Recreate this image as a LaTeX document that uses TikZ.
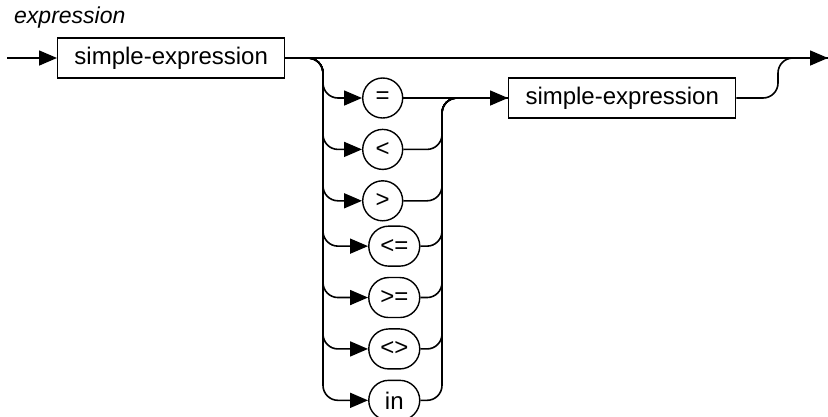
\documentclass[tikz,border=0pt]{standalone}
\usepackage{fontspec}
\setmainfont{Liberation Sans}
\usepackage{tikz}
\usetikzlibrary{arrows.meta,positioning}
\newcommand{\rrfont}{\fontsize{24}{28}\selectfont}
\tikzset{
  % Nonterminal box
  sebox/.style={rectangle,draw,line width=1.4pt,
    minimum width=227pt,minimum height=40pt,inner sep=2pt,
    font=\rrfont},
  % Terminal symbol (round)
  opcirc/.style={circle,draw,line width=1.4pt,
    minimum size=40pt,inner sep=0pt,font=\rrfont},
  % Terminal symbol (wide)
  opwide/.style={rectangle,rounded corners=20pt,draw,line width=1.4pt,
    minimum width=51pt,minimum height=40pt,inner sep=0pt,font=\rrfont},
  % Title
  ttl/.style={inner sep=0pt,font=\itshape\fontsize{23}{26}\selectfont},
  % Lines
  ln/.style={line width=1.6pt,rounded corners=15pt},
  arr/.style={ln,-{Triangle[length=18pt,width=15pt]}},
}
\begin{document}
\begin{tikzpicture}[x=1pt,y=-1pt]
  \useasboundingbox (0,0) rectangle (828,416);
  \node[ttl,anchor=base west] (title) at (14,23) {expression};

  % Main track
  \coordinate (start) at (7,58);
  \coordinate (split) at (307,58);
  \coordinate (lbus) at (323,58);
  \coordinate (rbus) at (442,98);
  \coordinate (outbus) at (778,58);
  \coordinate (end) at (828,58);
  \node[sebox,anchor=west] (se1) at (57,58) {simple-expression};

  % Operators
  \node[opcirc,anchor=west] (opEq) at (362,98) {=};
  \node[opcirc,below=10pt of opEq] (opLt) {<};
  \node[opcirc,below=10pt of opLt] (opGt) {>};
  \node[opwide,below=10pt of opGt.south west,anchor=north west] (opLe) {<=};
  \node[opwide,below=10pt of opLe] (opGe) {>=};
  \node[opwide,below=10pt of opGe] (opNe) {<>};
  \node[opwide,below=10pt of opNe] (opIn) {in};

  % Second operand
  \node[sebox,anchor=west] (se2) at (508,98) {simple-expression};

  \draw[arr] (start) -- (se1.west);
  \draw[arr] (se1.east) -- (end);
  \draw[ln] (se2.east) -| (outbus) -- (end);

  % Left bus
  \draw[arr] (split) -| (lbus |- opEq.west) -- (opEq.west);
  \draw[arr] (split) -| (lbus |- opLt.west) -- (opLt.west);
  \draw[arr] (split) -| (lbus |- opGt.west) -- (opGt.west);
  \draw[arr] (split) -| (lbus |- opLe.west) -- (opLe.west);
  \draw[arr] (split) -| (lbus |- opGe.west) -- (opGe.west);
  \draw[arr] (split) -| (lbus |- opNe.west) -- (opNe.west);
  \draw[arr] (split) -| (lbus |- opIn.west) -- (opIn.west);

  % Right bus
  \draw[ln] (opLt.east) -| (rbus) -- (se2.west);
  \draw[ln] (opGt.east) -| (rbus) -- (se2.west);
  \draw[ln] (opLe.east) -| (rbus) -- (se2.west);
  \draw[ln] (opGe.east) -| (rbus) -- (se2.west);
  \draw[ln] (opNe.east) -| (rbus) -- (se2.west);
  \draw[ln] (opIn.east) -| (rbus) -- (se2.west);
  \draw[arr] (opEq.east) -- (se2.west);
\end{tikzpicture}
\end{document}
